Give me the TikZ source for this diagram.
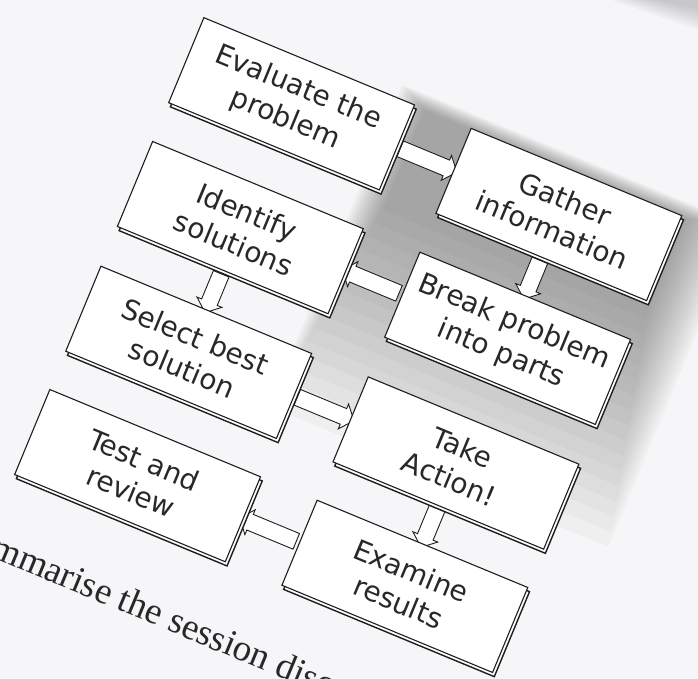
\documentclass[tikz,border=0pt]{standalone}
\usepackage{fontspec}
\setmainfont{DejaVu Sans}
\newfontfamily\bookfont{Liberation Serif}
\usetikzlibrary{shapes.arrows,calc}
\definecolor{paper}{RGB}{246,245,247}
\definecolor{ink}{RGB}{30,30,30}
\definecolor{txt}{RGB}{40,40,40}
\pgfdeclarelayer{back}
\pgfdeclarelayer{arrows}
\pgfsetlayers{back,arrows,main}
\begin{document}
\begin{tikzpicture}[x=1pt,y=-1pt,
  boxbase/.style={draw=ink, line width=1.1pt, fill=white, minimum width=228pt, minimum height=92pt, inner sep=0pt},
  stepbox/.style={boxbase, align=center, text=txt, font=\fontsize{28}{34}\selectfont},
  boxshade/.style={boxbase, line width=1.4pt},
  blockarrow/.style={single arrow, draw=ink, line width=0.9pt, fill=white, inner sep=8pt, minimum width=0pt, single arrow head extend=5pt, single arrow tip angle=100, single arrow head indent=0pt},
  hgap/.style={blockarrow, minimum height=61.3pt},
  vgap/.style={blockarrow, minimum height=42pt},
]
\clip (0,0) rectangle (698,679);
\begin{pgfonlayer}{back}
\fill[paper] (0,0) rectangle (698,679);
% page curl at top right
\foreach \k in {0,...,7}{
  \fill[black!60, opacity=0.045] (612+6*\k,0) -- (698,0) -- (698,30-3*\k) -- cycle;
}
\end{pgfonlayer}
\begin{scope}[shift={(291.6,103.8)}, rotate=-22.5, transform shape]
\begin{pgfonlayer}{back}
\foreach \k in {0,...,15}{
  \fill[black!70, opacity=0.036] (95+2*\k, -60+1*\k) rectangle (462-3.5*\k, 288-15*\k);
}
\end{pgfonlayer}
% boxes (copy underneath gives the doubled lower and right edges)
\node[boxshade] (eval-s)   at (3.2,3.2) {};
\node[stepbox]  (eval)     at (0,0) {Evaluate the\\problem};
\node[boxshade] (gather-s) at (292.5,3.2) {};
\node[stepbox]  (gather)   at (289.3,0) {Gather\\information};
\node[boxshade] (ident-s)  at (3.2,137.2) {};
\node[stepbox]  (ident)    at (0,134) {Identify\\solutions};
\node[boxshade] (break-s)  at (292.5,137.2) {};
\node[stepbox]  (break)    at (289.3,134) {Break problem\\into parts};
\node[boxshade] (select-s) at (3.2,272.2) {};
\node[stepbox]  (select)   at (0,269) {Select best\\solution};
\node[boxshade] (action-s) at (292.5,272.2) {};
\node[stepbox]  (action)   at (289.3,269) {Take\\Action!};
\node[boxshade] (test-s)   at (3.2,405.7) {};
\node[stepbox]  (test)     at (0,402.5) {Test and\\review};
\node[boxshade] (exam-s)   at (292.5,405.7) {};
\node[stepbox]  (exam)     at (289.3,402.5) {Examine\\results};
% block arrows
\begin{pgfonlayer}{arrows}
\node[hgap]              (a1) at ($(eval.east)!0.5!(gather.west)$) {};
\node[vgap, rotate=-90]  (a2) at ($(gather.south)!0.5!(break.north)$) {};
\node[hgap, rotate=180]  (a3) at ($(break.west)!0.5!(ident.east)$) {};
\node[vgap, rotate=-90]  (a4) at ($(ident.south)!0.5!(select.north)$) {};
\node[hgap]              (a5) at ($(select.east)!0.5!(action.west)$) {};
\node[vgap, rotate=-90]  (a6) at ($(action.south)!0.5!(exam.north)$) {};
\node[hgap, rotate=180]  (a7) at ($(exam.west)!0.5!(test.east)$) {};
\end{pgfonlayer}
% printed text of the page
\node[anchor=base west, inner sep=0pt, text=txt, font=\bookfont\fontsize{37}{40}\selectfont] (note) at (-106,534) {mmarise the session disc};
\end{scope}
\end{tikzpicture}
\end{document}
